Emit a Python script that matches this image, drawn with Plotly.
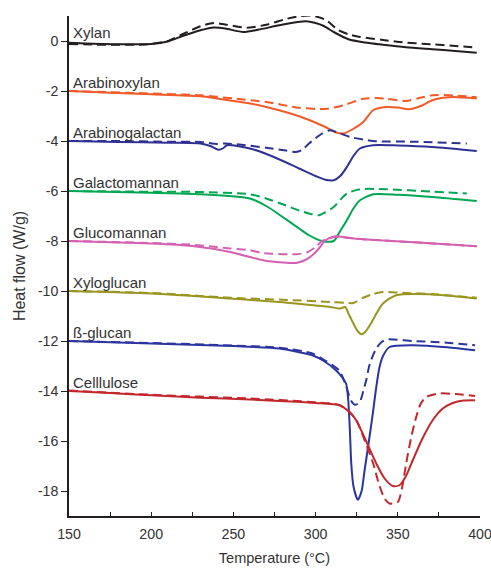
import plotly.graph_objects as go

# ---------------- data ----------------
names = ["Xylan", "Arabinoxylan", "Arabinogalactan", "Galactomannan",
         "Glucomannan", "Xyloglucan", "ß-glucan", "Celllulose"]
label_levels = [0, -2, -4, -6, -8, -10, -12, -14]
colors = ["#231f20", "#f15a29", "#2e3192", "#00a651",
          "#d460b0", "#9a9520", "#2b35a0", "#c1272d"]

xylan_T = [150, 170, 190, 200, 210, 220, 230, 238, 245, 256, 265, 280, 294, 300, 305, 311, 320, 330, 341, 355, 371, 385, 398]
xylan_solid = [-0.07, -0.12, -0.13, -0.12, -0.02, 0.22, 0.43, 0.54, 0.5, 0.36, 0.45, 0.66, 0.79, 0.72, 0.6, 0.36, 0.07, -0.06, -0.15, -0.25, -0.33, -0.4, -0.47]
xylan_dT = [150, 170, 190, 200, 210, 220, 230, 238, 245, 258, 270, 282, 290, 298, 306, 314, 320, 327, 340, 351, 370, 385, 398]
xylan_dash = [-0.12, -0.15, -0.15, -0.12, 0.0, 0.3, 0.59, 0.72, 0.66, 0.53, 0.65, 0.88, 0.99, 1.01, 0.85, 0.43, 0.27, 0.16, 0.05, -0.04, -0.13, -0.2, -0.26]

arax_T = [150, 175, 200, 230, 240, 250, 260, 270, 290, 306, 312, 317, 322, 329, 335, 343, 350, 357, 364, 371, 383, 398]
arax_solid = [-2.0, -2.07, -2.13, -2.21, -2.3, -2.4, -2.5, -2.64, -3.01, -3.44, -3.65, -3.7, -3.55, -3.24, -2.77, -2.64, -2.66, -2.73, -2.6, -2.37, -2.24, -2.3]
arax_dT = [150, 200, 230, 250, 270, 290, 306, 317, 329, 337, 343, 355, 362, 371, 385, 398]
arax_dash = [-2.0, -2.1, -2.17, -2.3, -2.44, -2.67, -2.72, -2.57, -2.31, -2.28, -2.31, -2.4, -2.3, -2.17, -2.18, -2.25]

arga_T = [150, 180, 210, 230, 236, 241, 244, 246, 260, 275, 290, 300, 306, 311, 315, 319, 323, 327, 335, 350, 371, 398]
arga_solid = [-4.0, -4.04, -4.07, -4.1, -4.2, -4.35, -4.28, -4.17, -4.3, -4.65, -5.1, -5.4, -5.55, -5.57, -5.4, -5.04, -4.6, -4.3, -4.17, -4.18, -4.24, -4.4]
arga_dT = [150, 180, 210, 230, 240, 245, 255, 270, 282, 288, 292, 296, 304, 309, 315, 321, 335, 362, 392]
arga_dash = [-4.0, -4.0, -4.03, -4.04, -4.12, -4.1, -4.15, -4.27, -4.38, -4.44, -4.35, -4.1, -3.7, -3.57, -3.7, -3.84, -4.0, -4.03, -4.1]

gama_T = [150, 200, 230, 260, 270, 280, 290, 296, 304, 311, 315, 319, 323, 327, 335, 350, 371, 398]
gama_solid = [-6.0, -6.07, -6.13, -6.3, -6.6, -7.04, -7.5, -7.77, -8.0, -8.0, -7.6, -7.17, -6.7, -6.37, -6.13, -6.15, -6.24, -6.4]
gama_dT = [150, 200, 230, 260, 270, 280, 290, 296, 302, 306, 311, 315, 319, 327, 343, 370, 392]
gama_dash = [-6.0, -6.03, -6.04, -6.13, -6.3, -6.53, -6.78, -6.9, -6.97, -6.85, -6.64, -6.35, -6.1, -5.93, -5.93, -6.02, -6.1]

glma_T = [150, 175, 200, 225, 248, 260, 268, 280, 288, 294, 298, 302, 306, 312, 320, 331, 360, 398]
glma_solid = [-8.0, -8.05, -8.1, -8.2, -8.44, -8.64, -8.77, -8.86, -8.88, -8.75, -8.57, -8.3, -7.97, -7.81, -7.88, -7.94, -8.05, -8.21]
glma_dT = [150, 200, 225, 240, 248, 260, 268, 288, 295, 300, 304, 308, 312, 331, 360, 398]
glma_dash = [-8.0, -8.08, -8.15, -8.24, -8.3, -8.37, -8.48, -8.53, -8.45, -8.24, -8.0, -7.9, -7.84, -7.94, -8.05, -8.21]

xygl_T = [150, 200, 248, 280, 300, 309, 315, 318, 320, 323, 325.5, 328, 330, 333, 337, 341, 349, 369, 398]
xygl_solid = [-10.0, -10.1, -10.3, -10.45, -10.58, -10.64, -10.7, -10.64, -10.9, -11.3, -11.6, -11.73, -11.65, -11.37, -10.9, -10.5, -10.17, -10.13, -10.3]
xygl_dT = [150, 200, 248, 280, 309, 318, 323, 329, 335, 341, 352, 370, 398]
xygl_dash = [-10.0, -10.08, -10.27, -10.35, -10.44, -10.47, -10.48, -10.27, -10.12, -10.04, -10.07, -10.12, -10.27]

bglu_T = [150, 200, 250, 278, 290, 298, 305, 312, 316, 318.5, 319.7, 320.8, 321.7, 323, 325.7, 328, 329.8, 332, 334.8, 337, 338.9, 341, 345, 359, 380, 397]
bglu_solid = [-12.0, -12.1, -12.2, -12.3, -12.45, -12.57, -12.8, -13.15, -13.44, -13.7, -14.24, -15.5, -16.9, -17.8, -18.35, -18.0, -17.17, -16.2, -14.9, -13.8, -13.04, -12.6, -12.24, -12.17, -12.25, -12.37]
bglu_dT = [150, 200, 250, 278, 298, 305, 310, 314.6, 318, 321.7, 324, 326.8, 329, 330.8, 333, 336.9, 340, 343, 359, 380, 397]
bglu_dash = [-12.0, -12.08, -12.18, -12.27, -12.5, -12.75, -12.95, -13.2, -13.7, -14.4, -14.55, -14.45, -14.0, -13.57, -12.9, -12.3, -12.05, -11.94, -12.0, -12.07, -12.17]

cell_T = [150, 175, 200, 230, 260, 278, 300, 314.6, 320, 324.7, 330, 336.9, 342, 347, 351, 355, 359.1, 365, 371.2, 377, 383.4, 390, 397]
cell_solid = [-14.0, -14.08, -14.17, -14.27, -14.34, -14.4, -14.48, -14.57, -14.8, -15.17, -15.9, -16.9, -17.5, -17.8, -17.77, -17.4, -16.77, -15.9, -15.17, -14.72, -14.48, -14.38, -14.37]
cell_dT = [150, 200, 260, 300, 314, 320, 325, 330, 335, 338.9, 342, 345, 350, 352.5, 355.1, 358, 361.2, 364, 367.2, 375.3, 385, 397]
cell_dash = [-13.98, -14.15, -14.3, -14.45, -14.55, -14.8, -15.2, -16.0, -16.9, -17.8, -18.3, -18.5, -18.44, -17.9, -16.9, -15.9, -15.04, -14.5, -14.24, -14.1, -14.12, -14.2]

solid_T = [xylan_T, arax_T, arga_T, gama_T, glma_T, xygl_T, bglu_T, cell_T]
solid_Y = [xylan_solid, arax_solid, arga_solid, gama_solid, glma_solid, xygl_solid, bglu_solid, cell_solid]
dash_T = [xylan_dT, arax_dT, arga_dT, gama_dT, glma_dT, xygl_dT, bglu_dT, cell_dT]
dash_Y = [xylan_dash, arax_dash, arga_dash, gama_dash, glma_dash, xygl_dash, bglu_dash, cell_dash]

y_ticks = [0, -2, -4, -6, -8, -10, -12, -14, -16, -18]
y_ticktext = ["0", "-2", "-4", "-6", "-8", "-10", "-12", "-14", "-16", "-18"]
x_ticks = [150, 200, 250, 300, 350, 400]

FONT = "Liberation Sans, Arial, sans-serif"
TXT = "#333333"

fig = go.Figure()
for i in range(len(names)):
    fig.add_trace(go.Scatter(x=dash_T[i], y=dash_Y[i], mode="lines",
                             line=dict(color=colors[i], width=2, dash="9px,5px",
                                       shape="spline", smoothing=0.7),
                             showlegend=False, hoverinfo="skip"))
    fig.add_trace(go.Scatter(x=solid_T[i], y=solid_Y[i], mode="lines",
                             line=dict(color=colors[i], width=2,
                                       shape="spline", smoothing=0.7),
                             showlegend=False, hoverinfo="skip"))
    fig.add_annotation(x=151.5, y=label_levels[i] + 0.35, text=names[i],
                       showarrow=False, xanchor="left", yanchor="middle",
                       font=dict(family=FONT, size=15, color=TXT))

fig.update_layout(
    width=491, height=568,
    margin=dict(l=69, r=11, t=16, b=52),
    plot_bgcolor="white", paper_bgcolor="white",
    font=dict(family=FONT, color=TXT, size=14),
)
fig.update_xaxes(range=[150, 400], tickvals=x_ticks, ticks="inside", ticklen=4,
                 tickcolor="#231f20", showline=True, linecolor="#231f20", linewidth=1.5,
                 showgrid=False, zeroline=False, tickfont=dict(size=14.2),
                 ticklabeloverflow="allow", ticklabelstandoff=4, automargin=False,
                 minor=dict(dtick=25, ticks="inside", ticklen=4, tickcolor="#231f20"),
                 title=dict(text="Temperature (°C)", font=dict(size=14.5), standoff=12))
fig.update_yaxes(range=[-19, 1], tickvals=y_ticks, ticktext=y_ticktext, ticks="outside",
                 ticklen=6, tickcolor="#231f20", showline=True, linecolor="#231f20",
                 linewidth=1.5, showgrid=False, zeroline=False, tickfont=dict(size=14.2),
                 automargin=False,
                 title=dict(text="Heat flow (W/g)", font=dict(size=16), standoff=8))

fig.write_html("out.html")
